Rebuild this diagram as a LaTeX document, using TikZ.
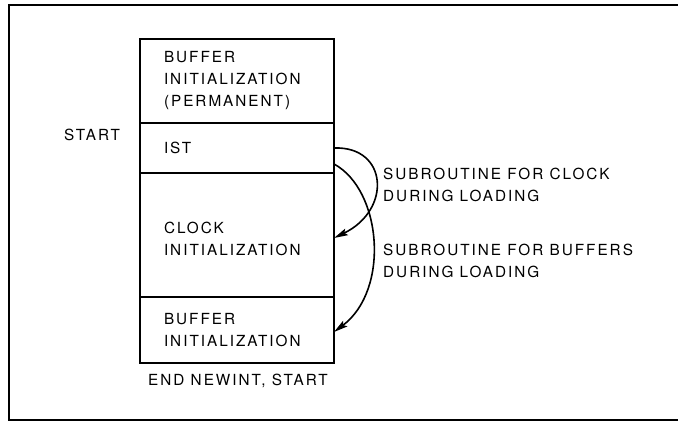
\documentclass[tikz,border=0pt]{standalone}
\usepackage{fontspec}
\setmainfont[LetterSpace=13]{TeX Gyre Heros}
\usetikzlibrary{arrows.meta}

\tikzset{
  caja/.style={draw, line width=2pt, minimum width=194pt, text width=146pt,
    align=left, inner xsep=0pt, inner ysep=0pt, outer sep=0pt},
  rotulo/.style={inner sep=0pt, align=left},
  flecha/.style={line width=1.6pt, -{Stealth[length=14pt,width=7pt,inset=2.5pt]}}
}

\begin{document}
\begin{tikzpicture}[x=1pt, y=-1pt, font=\fontsize{15.3}{22}\selectfont]
    \useasboundingbox (0,0) rectangle (678,422);
    % Marco
    \draw[line width=2.4pt] (678,5) -- (9,5) -- (9,420) -- (678,420);
    % Bloques de memoria
    \node[caja, minimum height=84pt] (bufperm) at (237,81) {BUFFER\\INITIALIZATION\\(PERMANENT)};
    \node[caja, minimum height=50pt] (ist) at (237,148) {IST};
    \node[caja, minimum height=124pt, text height=19pt] (clockinit) at (237,235) {CLOCK\\INITIALIZATION};
    \node[caja, minimum height=66pt] (bufinit) at (237,330) {BUFFER\\INITIALIZATION};
    % Rotulos
    \node[rotulo, anchor=west] (start) at (64,135) {START};
    \node[rotulo] (endnewint) at (238,381) {END NEWINT, START};
    \node[rotulo, anchor=west] (subclock) at (383,185) {SUBROUTINE FOR CLOCK\\DURING LOADING};
    \node[rotulo, anchor=west] (subbuf) at (383,261) {SUBROUTINE FOR BUFFERS\\DURING LOADING};
    % Saltos a subrutinas
    \draw[flecha] (ist.east) .. controls +(54,-2) and +(58,-28) .. ([yshift=-3pt]clockinit.east);
    \draw[flecha] ([yshift=9pt]ist.south east) .. controls +(48,26) and +(56,-42) .. ([yshift=-2pt]bufinit.east);
\end{tikzpicture}
\end{document}
